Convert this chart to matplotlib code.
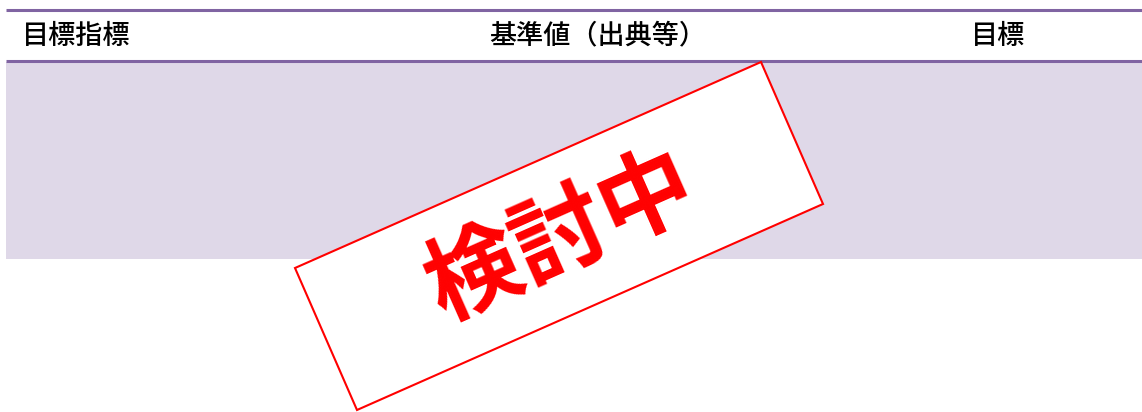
import matplotlib.pyplot as plt
from matplotlib.patches import Rectangle, Polygon

plt.rcParams['font.family'] = ['Noto Sans CJK JP', 'DejaVu Sans']

# header labels of the table
headers = ['目標指標', '基準値（出典等）', '目標']
header_x = [22, 598, 998]
header_ha = ['left', 'center', 'center']
stamp_text = '検討中'

purple = '#8064A2'
lilac = '#DFD8E8'
red = '#FF0000'

fig = plt.figure(figsize=(11.42, 4.12), dpi=100)
ax = fig.add_axes([0, 0, 1, 1])
ax.set_xlim(0, 1142)
ax.set_ylim(412, 0)
ax.axis('off')

# table lines and body
ax.plot([6, 1142], [9.5, 9.5], color=purple, lw=2.2, solid_capstyle='butt')
ax.plot([6, 1142], [60.5, 60.5], color=purple, lw=2.2, solid_capstyle='butt')
ax.add_patch(Rectangle((6, 62), 1136, 197, facecolor=lilac, edgecolor='none'))

for label, x, ha in zip(headers, header_x, header_ha):
    ax.text(x, 36, label, ha=ha, va='center', fontsize=19.5, fontweight='medium', color='black')

# the "under review" stamp
corners = [(295, 268), (761, 62), (823, 204), (357, 410)]
ax.add_patch(Polygon(corners, closed=True, facecolor='white', edgecolor=red, lw=1.5, zorder=3))
ax.text(562, 238, stamp_text, ha='center', va='center', rotation=23.9,
        rotation_mode='anchor', fontsize=68, fontweight='bold', color=red, zorder=4)

fig.savefig('out.png', dpi=100)
